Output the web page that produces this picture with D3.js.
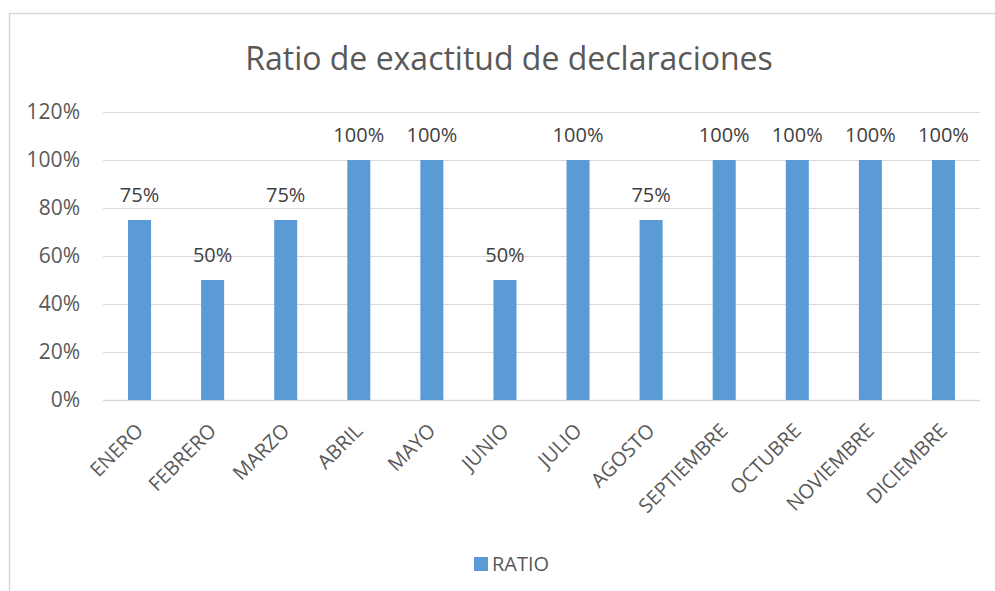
<!DOCTYPE html>
<html>
<head>
<meta charset="utf-8">
<script src="https://cdn.jsdelivr.net/npm/d3@7"></script>
<style>
  body { margin: 0; background: #ffffff; }
  svg { display: block; font-family: "Open Sans", "Noto Sans", sans-serif; }
</style>
</head>
<body>
<svg id="chart" width="995" height="591"></svg>
<script>
// DATA
const months = ['ENERO', 'FEBRERO', 'MARZO', 'ABRIL', 'MAYO', 'JUNIO', 'JULIO', 'AGOSTO', 'SEPTIEMBRE', 'OCTUBRE', 'NOVIEMBRE', 'DICIEMBRE'];
const ratio = [0.75, 0.50, 0.75, 1.00, 1.00, 0.50, 1.00, 0.75, 1.00, 1.00, 1.00, 1.00];
const yTicks = [0, 0.2, 0.4, 0.6, 0.8, 1.0, 1.2];
const seriesName = 'RATIO';
const chartTitle = 'Ratio de exactitud de declaraciones';

// layout
const svg = d3.select('#chart');
const plotLeft = 103, plotRight = 980;
const plotTop = 112, plotBottom = 400;
const barColor = '#5b9bd5';
const gridColor = '#d9d9d9';
const textColor = '#595959';

// chart border (frame continues past the right/bottom edge of the picture)
svg.append('rect')
	.attr('x', 9.5)
	.attr('y', 13.5)
	.attr('width', 1000)
	.attr('height', 600)
	.attr('fill', '#ffffff')
	.attr('stroke', '#d9d9d9')
	.attr('stroke-width', 1.5);

const x = d3.scaleBand()
	.domain(months)
	.range([plotLeft, plotRight])
	.paddingInner(0.685)
	.paddingOuter(0.3425);

const y = d3.scaleLinear()
	.domain([0, 1.2])
	.range([plotBottom, plotTop]);

const pct = d3.format('.0%');

// gridlines
svg.append('g')
	.selectAll('line')
	.data(yTicks)
	.join('line')
		.attr('x1', plotLeft)
		.attr('x2', plotRight)
		.attr('y1', d => Math.round(y(d)) + 0.5)
		.attr('y2', d => Math.round(y(d)) + 0.5)
		.attr('stroke', gridColor)
		.attr('stroke-width', d => d === 0 ? 1.5 : 1);

// y axis labels
const yAxis = d3.axisLeft(y).tickValues(yTicks).tickFormat(pct).tickSize(0).tickPadding(0);
svg.append('g')
	.attr('transform', 'translate(80,0)')
	.call(yAxis)
	.call(g => g.select('.domain').remove())
	.call(g => g.selectAll('text')
		.attr('font-family', '"Open Sans", sans-serif')
		.attr('font-size', 21)
		.attr('fill', textColor));

// bars
svg.append('g')
	.selectAll('rect')
	.data(months)
	.join('rect')
		.attr('x', d => x(d))
		.attr('y', (d, i) => y(ratio[i]))
		.attr('width', x.bandwidth())
		.attr('height', (d, i) => plotBottom - y(ratio[i]))
		.attr('fill', barColor);

// data labels
svg.append('g')
	.selectAll('text')
	.data(months)
	.join('text')
		.attr('x', d => x(d) + x.bandwidth() / 2)
		.attr('y', (d, i) => y(ratio[i]) - 18)
		.attr('text-anchor', 'middle')
		.attr('font-size', 20)
		.attr('fill', '#404040')
		.text((d, i) => pct(ratio[i]));

// x axis labels, rotated
const xAxis = d3.axisBottom(x).tickSize(0).tickPadding(0);
svg.append('g')
	.attr('transform', 'translate(0,' + plotBottom + ')')
	.call(xAxis)
	.call(g => g.select('.domain').remove())
	.call(g => g.selectAll('text')
		.attr('font-family', '"Open Sans", sans-serif')
		.attr('font-size', 20)
		.attr('fill', textColor)
		.attr('text-anchor', 'end')
		.attr('dy', 0)
		.attr('y', 0)
		.attr('transform', 'translate(5,32) rotate(-45)'));

// title
svg.append('text')
	.attr('x', 509)
	.attr('y', 70)
	.attr('text-anchor', 'middle')
	.attr('font-size', 32)
	.attr('fill', textColor)
	.text(chartTitle);

// legend
svg.append('rect')
	.attr('x', 474)
	.attr('y', 557)
	.attr('width', 14)
	.attr('height', 14)
	.attr('fill', barColor);

svg.append('text')
	.attr('x', 492)
	.attr('y', 571)
	.attr('font-size', 20)
	.attr('fill', textColor)
	.text(seriesName);
</script>
</body>
</html>
